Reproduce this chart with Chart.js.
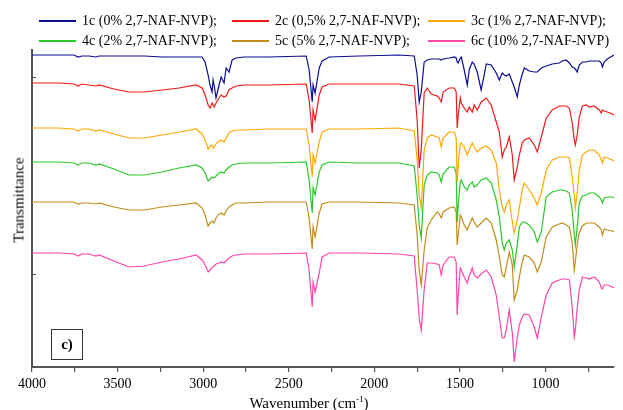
<!DOCTYPE html>
<html>
<head>
<meta charset="utf-8">
<script src="https://cdn.jsdelivr.net/npm/chart.js@4.4.1/dist/chart.umd.min.js"></script>
<style>
  body { margin: 0; background: #fff; }
  #wrap { position: relative; width: 623px; height: 410px; font-family: 'Liberation Serif', serif; color: #000; }
  #chart { position: absolute; left: 0; top: 0; }
  .leg-line { position: absolute; height: 1.6px; width: 37px; }
  .leg-text { position: absolute; font-size: 14px; line-height: 16px; white-space: nowrap; }
  #ytitle { position: absolute; left: 19px; top: 200px; transform: translate(-50%, -50%) rotate(-90deg); font-size: 15px; white-space: nowrap; }
  #xtitle { position: absolute; left: 309px; top: 394px; transform: translateX(-50%); font-size: 15px; white-space: nowrap; }
  #xtitle sup { font-size: 9px; }
  #panel { position: absolute; left: 51px; top: 329px; width: 30px; height: 29px; border: 1.5px solid #333;
           font-weight: bold; font-size: 15px; line-height: 29px; text-align: center; }
</style>
</head>
<body>
<div id="wrap">
  <canvas id="chart" width="623" height="410"></canvas>
  <div id="ytitle">Transmittance</div>
  <div id="xtitle">Wavenumber (cm<sup>-1</sup>)</div>
  <div id="panel">c)</div>
</div>
<script>
// FTIR spectra, offset for clarity (arbitrary transmittance units)
const wavenumbers = [4000, 3842, 3755, 3731, 3708, 3667, 3626, 3608, 3521, 3433,
  3345, 3240, 3141, 3041, 3006, 2989, 2971, 2960, 2948, 2942,
  2936, 2925, 2907, 2895, 2878, 2866, 2849, 2831, 2808, 2761,
  2615, 2398, 2381, 2363, 2358, 2346, 2322, 2305, 2264, 2089,
  1855, 1767, 1750, 1738, 1726, 1709, 1691, 1668, 1633, 1621,
  1609, 1598, 1563, 1533, 1522, 1516, 1510, 1498, 1492, 1475,
  1457, 1446, 1428, 1417, 1399, 1376, 1346, 1317, 1288, 1270,
  1253, 1241, 1229, 1212, 1194, 1183, 1165, 1153, 1136, 1124,
  1095, 1066, 1048, 1025, 996, 961, 920, 902, 879, 861,
  844, 832, 826, 815, 803, 785, 762, 744, 715, 686,
  674, 668, 657, 639, 610, 600];

const s1c = [312, 312, 312, 310, 311, 311, 310, 311, 311, 311,
  311, 310, 310, 310, 310, 305, 292, 282, 275, 287,
  282, 269, 282, 290, 284, 299, 295, 307, 309, 310,
  310, 311, 297, 265, 282, 274, 299, 306, 310, 311,
  312, 311, 292, 265, 275, 305, 307, 308, 308, 308,
  307, 308, 309, 310, 309, 305, 304, 309, 310, 297,
  282, 297, 305, 303, 295, 277, 303, 302, 294, 287,
  294, 292, 291, 293, 285, 280, 270, 282, 293, 299,
  296, 295, 295, 299, 301, 303, 304, 306, 307, 304,
  300, 299, 298, 295, 302, 305, 305, 306, 306, 306,
  304, 300, 305, 308, 311, 312];

const s2c = [284, 284, 283, 281, 283, 282, 281, 282, 278, 275,
  275, 277, 279, 282, 279, 272, 262, 259, 264, 262,
  260, 264, 269, 272, 270, 271, 277, 279, 281, 282,
  282, 283, 267, 234, 257, 247, 272, 280, 283, 283,
  283, 281, 247, 199, 217, 274, 279, 273, 271, 269,
  265, 275, 279, 279, 275, 239, 252, 269, 264, 259,
  255, 260, 255, 262, 257, 265, 269, 262, 245, 235,
  210, 217, 220, 230, 212, 187, 200, 212, 224, 227,
  229, 222, 215, 230, 249, 257, 261, 261, 261, 259,
  244, 227, 222, 232, 250, 261, 262, 260, 261, 257,
  254, 257, 256, 255, 253, 252];

const s3c = [239, 239, 238, 236, 238, 238, 236, 237, 233, 229,
  229, 232, 235, 238, 233, 227, 218, 221, 222, 219,
  220, 223, 226, 227, 225, 229, 234, 236, 237, 237,
  238, 238, 222, 190, 212, 204, 225, 235, 238, 238,
  239, 236, 207, 172, 159, 217, 229, 232, 230, 229,
  220, 229, 235, 235, 229, 185, 202, 224, 224, 220,
  212, 217, 224, 220, 215, 219, 221, 217, 204, 177,
  160, 155, 162, 167, 145, 134, 147, 159, 177, 184,
  177, 169, 162, 174, 197, 207, 210, 210, 210, 209,
  190, 172, 159, 174, 197, 212, 215, 217, 217, 212,
  207, 204, 210, 209, 207, 206];

const s4c = [205, 205, 204, 202, 204, 204, 202, 203, 198, 192,
  192, 195, 199, 202, 199, 194, 186, 188, 190, 189,
  189, 191, 194, 195, 194, 197, 200, 202, 203, 204,
  204, 205, 187, 154, 179, 172, 195, 202, 205, 204,
  204, 201, 172, 142, 129, 182, 192, 195, 194, 192,
  185, 193, 200, 200, 194, 145, 162, 185, 187, 180,
  177, 182, 185, 180, 182, 187, 189, 184, 167, 150,
  124, 117, 124, 127, 117, 100, 122, 140, 145, 145,
  142, 135, 125, 135, 170, 175, 177, 177, 176, 174,
  157, 132, 122, 140, 164, 171, 172, 174, 174, 170,
  167, 164, 169, 170, 170, 169];

const s5c = [165, 165, 165, 163, 164, 164, 163, 164, 160, 157,
  157, 160, 162, 164, 159, 152, 141, 144, 146, 145,
  144, 149, 153, 154, 152, 156, 160, 162, 164, 164,
  165, 165, 149, 118, 140, 130, 154, 163, 165, 165,
  164, 162, 132, 97, 82, 117, 139, 147, 155, 153,
  149, 155, 159, 160, 155, 122, 132, 152, 150, 142,
  137, 142, 149, 145, 140, 144, 149, 144, 127, 110,
  92, 90, 100, 115, 102, 67, 77, 90, 105, 112,
  110, 104, 95, 105, 130, 140, 143, 144, 142, 140,
  124, 97, 105, 122, 134, 141, 144, 144, 144, 140,
  137, 132, 138, 137, 136, 135];

const s6c = [114, 114, 113, 111, 113, 113, 111, 112, 106, 100,
  101, 105, 108, 112, 107, 102, 95, 97, 100, 100,
  101, 103, 104, 105, 104, 106, 109, 111, 112, 113,
  113, 114, 97, 60, 85, 75, 94, 110, 114, 114,
  113, 111, 77, 49, 37, 77, 104, 104, 103, 102,
  92, 102, 110, 110, 105, 52, 72, 99, 97, 90,
  84, 91, 99, 92, 89, 93, 97, 90, 72, 50,
  29, 29, 37, 57, 34, 5, 30, 42, 50, 53,
  52, 40, 29, 50, 72, 84, 87, 88, 88, 87,
  60, 30, 37, 59, 77, 90, 89, 88, 90, 85,
  79, 78, 82, 82, 80, 79];

const seriesLabels = ['1c (0% 2,7-NAF-NVP);', '2c (0,5% 2,7-NAF-NVP);', '3c (1% 2,7-NAF-NVP);',
  '4c (2% 2,7-NAF-NVP);', '5c (5% 2,7-NAF-NVP);', '6c (10% 2,7-NAF-NVP)'];
const seriesColors = ['#0c0c94', '#f21818', '#ffa800', '#28c828', '#c28c1a', '#ff45a8'];
const seriesData = [s1c, s2c, s3c, s4c, s5c, s6c];

const xTicks = [4000, 3750, 3500, 3250, 3000, 2750, 2500, 2250, 2000, 1750, 1500, 1250, 1000, 750];
const xLabelTicks = [4000, 3500, 3000, 2500, 2000, 1500, 1000];
const yTicks = [93, 290];

// legend (html)
function buildLegend() {
  const wrap = document.getElementById('wrap');
  const colLeft = [39, 232, 428];
  const rowMid = [21, 41];
  seriesLabels.forEach((label, i) => {
    const left = colLeft[i % 3];
    const mid = rowMid[Math.floor(i / 3)];
    const line = document.createElement('div');
    line.className = 'leg-line';
    line.style.left = left + 'px';
    line.style.top = (mid - 0.8) + 'px';
    line.style.background = seriesColors[i];
    wrap.appendChild(line);
    const txt = document.createElement('div');
    txt.className = 'leg-text';
    txt.style.left = (left + 43) + 'px';
    txt.style.top = (mid - 8) + 'px';
    txt.textContent = label;
    wrap.appendChild(txt);
  });
}

// small inward ticks on the y axis
const yTickPlugin = {
  id: 'yInnerTicks',
  afterDraw(chart) {
    const ctx = chart.ctx;
    const y = chart.scales.y;
    const left = chart.chartArea.left;
    ctx.save();
    ctx.strokeStyle = '#555';
    ctx.lineWidth = 1.2;
    yTicks.forEach(v => {
      const py = Math.round(y.getPixelForValue(v)) + 0.5;
      ctx.beginPath();
      ctx.moveTo(left, py);
      ctx.lineTo(left + 4, py);
      ctx.stroke();
    });
    ctx.restore();
  }
};

buildLegend();

new Chart(document.getElementById('chart'), {
  type: 'line',
  data: {
    labels: wavenumbers,
    datasets: seriesData.map((d, i) => ({
      label: seriesLabels[i],
      data: wavenumbers.map((w, k) => ({ x: w, y: d[k] })),
      borderColor: seriesColors[i],
      borderWidth: 1.2,
      pointRadius: 0,
      tension: 0,
      fill: false
    }))
  },
  options: {
    responsive: false,
    animation: false,
    layout: { padding: { left: 0, top: 50, right: 9, bottom: 0 } },
    plugins: { legend: { display: false }, tooltip: { enabled: false } },
    scales: {
      x: {
        type: 'linear',
        reverse: true,
        min: 600,
        max: 4000,
        afterBuildTicks: s => { s.ticks = xTicks.map(v => ({ value: v })); },
        afterFit: s => { s.height = 43; },
        ticks: {
          autoSkip: false,
          maxRotation: 0,
          padding: 4,
          color: '#000',
          font: { family: 'Liberation Serif', size: 14 },
          callback: v => xLabelTicks.includes(v) ? String(v) : ''
        },
        grid: { drawOnChartArea: false, tickLength: 5, color: '#555', lineWidth: 1.2 },
        border: { color: '#555', width: 2 }
      },
      y: {
        min: 0,
        max: 317,
        afterFit: s => { s.width = 32; },
        ticks: { display: false },
        grid: { display: false },
        border: { color: '#555', width: 2 }
      }
    }
  },
  plugins: [yTickPlugin]
});
</script>
</body>
</html>
